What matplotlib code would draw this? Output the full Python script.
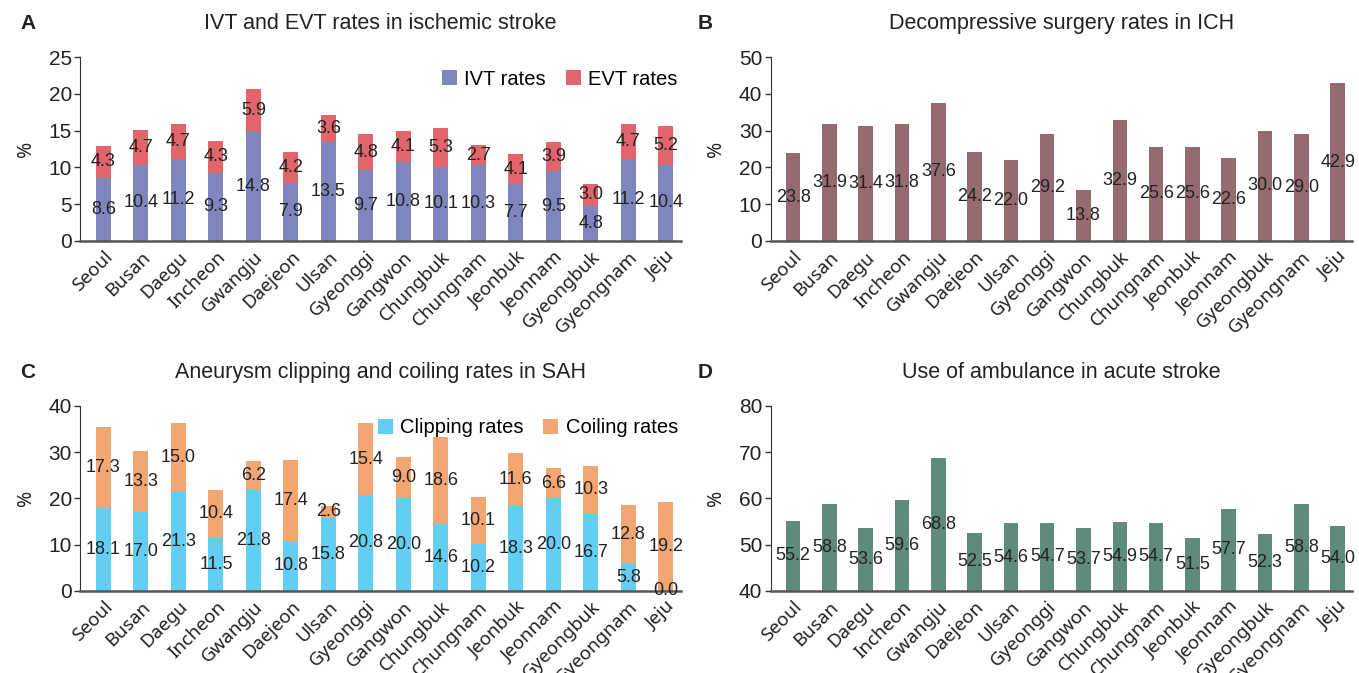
import matplotlib
matplotlib.use("Agg")
import matplotlib.pyplot as plt
import numpy as np

regions = ["Seoul", "Busan", "Daegu", "Incheon", "Gwangju", "Daejeon", "Ulsan",
           "Gyeonggi", "Gangwon", "Chungbuk", "Chungnam", "Jeonbuk", "Jeonnam",
           "Gyeongbuk", "Gyeongnam", "Jeju"]

ivt_rates = [8.6, 10.4, 11.2, 9.3, 14.8, 7.9, 13.5, 9.7, 10.8, 10.1, 10.3, 7.7, 9.5, 4.8, 11.2, 10.4]
evt_rates = [4.3, 4.7, 4.7, 4.3, 5.9, 4.2, 3.6, 4.8, 4.1, 5.3, 2.7, 4.1, 3.9, 3.0, 4.7, 5.2]

decompressive_rates = [23.8, 31.9, 31.4, 31.8, 37.6, 24.2, 22.0, 29.2, 13.8, 32.9, 25.6, 25.6,
                       22.6, 30.0, 29.0, 42.9]

clipping_rates = [18.1, 17.0, 21.3, 11.5, 21.8, 10.8, 15.8, 20.8, 20.0, 14.6, 10.2, 18.3, 20.0,
                  16.7, 5.8, 0.0]
coiling_rates = [17.3, 13.3, 15.0, 10.4, 6.2, 17.4, 2.6, 15.4, 9.0, 18.6, 10.1, 11.6, 6.6,
                 10.3, 12.8, 19.2]

ambulance_use = [55.2, 58.8, 53.6, 59.6, 68.8, 52.5, 54.6, 54.7, 53.7, 54.9, 54.7, 51.5, 57.7,
                 52.3, 58.8, 54.0]

TITLE_FONT = ["Liberation Sans", "DejaVu Sans"]
LABEL_FONT = ["Liberation Sans", "DejaVu Sans"]
TICK_FONT = ["Noto Sans", "DejaVu Sans"]
TEXT_COLOR = "#222222"
AXIS_COLOR = "#333333"

x = np.arange(len(regions))
bar_width = 0.4

fig = plt.figure(figsize=(13.59, 6.73), dpi=100)
ax_a = fig.add_axes([0.059, 0.642, 0.442, 0.273])
ax_b = fig.add_axes([0.567, 0.642, 0.428, 0.273])
ax_c = fig.add_axes([0.059, 0.122, 0.442, 0.275])
ax_d = fig.add_axes([0.567, 0.122, 0.428, 0.275])


def style_axis(ax, ymin, ymax, step, title, letter, letter_x):
    ax.set_xlim(-0.62, 15.4)
    ax.set_ylim(ymin, ymax)
    ax.set_yticks(np.arange(ymin, ymax + 1, step))
    for lab in ax.get_yticklabels():
        lab.set_family(TITLE_FONT)
        lab.set_fontsize(15)
        lab.set_color(TEXT_COLOR)
    ax.set_xticks(x)
    ax.set_xticklabels(regions, rotation=45, ha="right", rotation_mode="anchor",
                       fontsize=13.5, family=TICK_FONT, color=TEXT_COLOR)
    ax.tick_params(axis="x", length=0, pad=5)
    ax.tick_params(axis="y", length=4, width=1, color=AXIS_COLOR, pad=2)
    for side in ["top", "right"]:
        ax.spines[side].set_visible(False)
    ax.spines["left"].set_color(AXIS_COLOR)
    ax.spines["bottom"].set_color("#555555")
    ax.spines["bottom"].set_linewidth(1.8)
    ax.set_ylabel("%", fontsize=14, family=TICK_FONT, color=TEXT_COLOR, labelpad=9)
    ax.set_title(title, fontsize=15.5, family=TITLE_FONT, color=TEXT_COLOR, pad=20)
    ax.text(letter_x, 1.13, letter, transform=ax.transAxes, fontsize=15,
            fontweight="bold", family=LABEL_FONT, color=TEXT_COLOR,
            ha="left", va="bottom")


def add_labels(ax, centers, values):
    for xi, yc, v in zip(x, centers, values):
        ax.text(xi, yc, f"{v:.1f}", ha="center", va="center", fontsize=13,
                family=LABEL_FONT, color=TEXT_COLOR)


def add_legend(ax):
    ax.legend(loc="upper right", ncol=2, frameon=False, handlelength=0.75,
              handleheight=0.75, columnspacing=1.0, handletextpad=0.35,
              prop={"family": TITLE_FONT, "size": 14.5}, bbox_to_anchor=(1.025, 1.03))


# A: IVT and EVT rates
ivt = np.array(ivt_rates)
evt = np.array(evt_rates)
ax_a.bar(x, ivt, bar_width, color="#7e86bd", label="IVT rates")
ax_a.bar(x, evt, bar_width, bottom=ivt, color="#e0666c", label="EVT rates")
add_labels(ax_a, ivt / 2, ivt)
add_labels(ax_a, ivt + evt / 2, evt)
style_axis(ax_a, 0, 25, 5, "IVT and EVT rates in ischemic stroke", "A", -0.1)
add_legend(ax_a)

# B: decompressive surgery
dec = np.array(decompressive_rates)
ax_b.bar(x, dec, bar_width, color="#956a70")
add_labels(ax_b, dec / 2, dec)
style_axis(ax_b, 0, 50, 10, "Decompressive surgery rates in ICH", "B", -0.125)

# C: clipping and coiling
clip = np.array(clipping_rates)
coil = np.array(coiling_rates)
ax_c.bar(x, clip, bar_width, color="#62cef1", label="Clipping rates")
ax_c.bar(x, coil, bar_width, bottom=clip, color="#f2a671", label="Coiling rates")
add_labels(ax_c, clip / 2, clip)
add_labels(ax_c, clip + coil / 2, coil)
style_axis(ax_c, 0, 40, 10, "Aneurysm clipping and coiling rates in SAH", "C", -0.1)
add_legend(ax_c)

# D: ambulance use
amb = np.array(ambulance_use)
ax_d.bar(x, amb - 40, bar_width, bottom=40, color="#5e8b7c")
add_labels(ax_d, (amb + 40) / 2, amb)
style_axis(ax_d, 40, 80, 10, "Use of ambulance in acute stroke", "D", -0.125)

fig.savefig("out.png", dpi=100)
